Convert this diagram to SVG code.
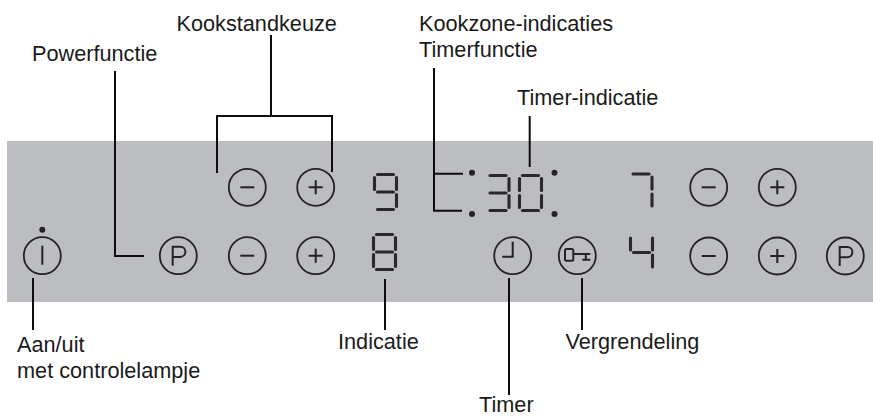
<svg xmlns="http://www.w3.org/2000/svg" xmlns:xlink="http://www.w3.org/1999/xlink" width="873" height="417" viewBox="0 0 873 417">
<style>
text{font-family:"Liberation Sans",Arial,sans-serif;font-size:21.7px;fill:#1a1a1a}
.ln{fill:none;stroke:#0d0d0d;stroke-width:2}
.ic{fill:none;stroke:#232325;stroke-width:1.8}
.gl{fill:none;stroke:#232325;stroke-width:2}
.sg{fill:none;stroke:#29292b;stroke-width:3.1;stroke-linecap:round}
.dot{fill:#232325}
</style>
<defs>
<circle id="ring" class="ic" r="18.5"/>
<g id="minus"><use href="#ring"/><path class="gl" d="M-7 0H7"/></g>
<g id="plus"><use href="#ring"/><path class="gl" d="M-7 0H7M0-7V7"/></g>
<g id="power"><use href="#ring"/><path class="gl" d="M-5.6 10V-9H2A5.1 5.1 0 0 1 2 1.2H-5.6"/></g>
<path id="sa" d="M3 0H19"/><path id="sb" d="M22 3V15"/><path id="sc" d="M22 20V32"/>
<path id="sd" d="M3 35H19"/><path id="se" d="M0 20V32"/><path id="sf" d="M0 3V15"/><path id="sg" d="M3 17.5H19"/>
</defs>
<rect id="panel" x="7" y="141" width="866" height="161" fill="#bcbdc0"/>
<g id="connectors">
<path class="ln" d="M271 35V116M217 173V116H332V172"/>
<path class="ln" d="M115 71V256H144"/>
<path class="ln" d="M434 68V210.7H462M434 173.7H463"/>
<path class="ln" d="M529.7 116V167"/>
<path class="ln" d="M33 278V330"/>
<path class="ln" d="M385 279V330"/>
<path class="ln" d="M509 278V395"/>
<path class="ln" d="M582 278V330"/>
</g>
<g id="btn-onoff" transform="translate(42.3 255.7)"><use href="#ring"/><path class="gl" d="M0-10V9"/><circle class="dot" cy="-26" r="3"/></g>
<g id="btn-power-left"><use href="#power" x="178.3" y="255.7"/></g>
<g id="btn-minus-1"><use href="#minus" x="247.3" y="187.3"/></g>
<g id="btn-plus-1"><use href="#plus" x="315.7" y="187.3"/></g>
<g id="btn-minus-2"><use href="#minus" x="247.3" y="255.7"/></g>
<g id="btn-plus-2"><use href="#plus" x="315.7" y="255.7"/></g>
<g id="digit-9" class="sg" transform="translate(374.5 174.5)"><use href="#sa"/><use href="#sb"/><use href="#sc"/><use href="#sd"/><use href="#sf"/><use href="#sg"/></g>
<g id="digit-8" class="sg" transform="translate(373.5 234.5)"><use href="#sa"/><use href="#sb"/><use href="#sc"/><use href="#sd"/><use href="#se"/><use href="#sf"/><use href="#sg"/></g>
<g id="timer-display">
<g class="sg" transform="translate(487 175.5)"><use href="#sa"/><use href="#sb"/><use href="#sc"/><use href="#sd"/><use href="#sg"/></g>
<g class="sg" transform="translate(519.5 175.5)"><use href="#sa"/><use href="#sb"/><use href="#sc"/><use href="#sd"/><use href="#se"/><use href="#sf"/></g>
<circle class="dot" cx="472" cy="172.7" r="3"/><circle class="dot" cx="472" cy="214" r="3"/>
<circle class="dot" cx="554.5" cy="172.7" r="3"/><circle class="dot" cx="554.5" cy="214" r="3"/>
</g>
<g id="digit-7" class="sg" transform="translate(630 174)"><use href="#sa"/><use href="#sb"/><use href="#sc"/></g>
<g id="digit-4" class="sg" transform="translate(630.5 235)"><use href="#sb"/><use href="#sc"/><use href="#sf"/><use href="#sg"/></g>
<g id="btn-timer" transform="translate(512.7 255.7)"><use href="#ring"/><path class="gl" d="M0-14V1H-10.5"/></g>
<g id="btn-lock" transform="translate(577.3 255.7)"><use href="#ring"/><path class="gl" d="M-4-1.7H13M8.5-1.7V4M5 4H13"/><rect class="gl" x="-12.3" y="-6.7" width="8.3" height="11.7" rx="1.5"/></g>
<g id="btn-minus-3"><use href="#minus" x="708.7" y="187.3"/></g>
<g id="btn-plus-3"><use href="#plus" x="777.3" y="187.3"/></g>
<g id="btn-minus-4"><use href="#minus" x="708.7" y="256"/></g>
<g id="btn-plus-4"><use href="#plus" x="777.3" y="256"/></g>
<g id="btn-power-right"><use href="#power" x="845.3" y="256"/></g>
<g id="labels">
<text x="176.5" y="30.5">Kookstandkeuze</text>
<text x="32" y="61">Powerfunctie</text>
<text x="419" y="31">Kookzone-indicaties</text>
<text x="419" y="57">Timerfunctie</text>
<text x="517" y="105">Timer-indicatie</text>
<text x="17" y="352">Aan/uit</text>
<text x="17" y="378">met controlelampje</text>
<text x="338" y="349">Indicatie</text>
<text x="565.5" y="349">Vergrendeling</text>
<text x="479" y="412">Timer</text>
</g>
</svg>
